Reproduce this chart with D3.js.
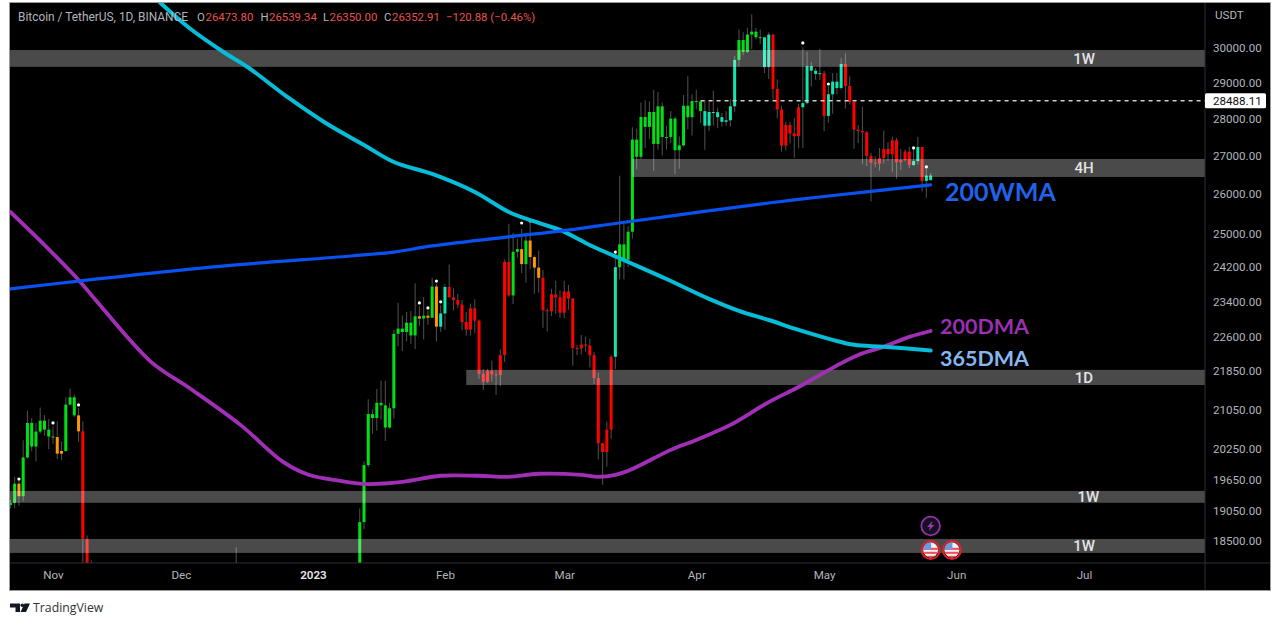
<!DOCTYPE html>
<html>
<head>
<meta charset="utf-8">
<script src="https://cdn.jsdelivr.net/npm/d3@7/dist/d3.min.js"></script>
<style>
html,body{margin:0;padding:0;background:#fff;overflow:hidden}
svg{display:block}
text{font-family:Roboto,sans-serif}
</style>
</head>
<body>
<svg id="chart" width="1280" height="626"></svg>
<script>
// ---- candle data, parallel arrays, one group per month ----
const candleDates = [
 "2022-10-22","2022-10-23","2022-10-24","2022-10-25","2022-10-26","2022-10-27","2022-10-28","2022-10-29","2022-10-30","2022-10-31",
 "2022-11-01","2022-11-02","2022-11-03","2022-11-04","2022-11-05","2022-11-06","2022-11-07","2022-11-08","2022-11-09","2022-11-10",
 "2022-12-14",
 "2023-01-12","2023-01-13","2023-01-14","2023-01-15","2023-01-16","2023-01-17","2023-01-18","2023-01-19","2023-01-20","2023-01-21","2023-01-22","2023-01-23","2023-01-24","2023-01-25","2023-01-26","2023-01-27","2023-01-28","2023-01-29","2023-01-30","2023-01-31",
 "2023-02-01","2023-02-02","2023-02-03","2023-02-04","2023-02-05","2023-02-06","2023-02-07","2023-02-08","2023-02-09","2023-02-10","2023-02-11","2023-02-12","2023-02-13","2023-02-14","2023-02-15","2023-02-16","2023-02-17","2023-02-18","2023-02-19","2023-02-20","2023-02-21","2023-02-22","2023-02-23","2023-02-24","2023-02-25","2023-02-26","2023-02-27","2023-02-28",
 "2023-03-01","2023-03-02","2023-03-03","2023-03-04","2023-03-05","2023-03-06","2023-03-07","2023-03-08","2023-03-09","2023-03-10","2023-03-11","2023-03-12","2023-03-13","2023-03-14","2023-03-15","2023-03-16","2023-03-17","2023-03-18","2023-03-19","2023-03-20","2023-03-21","2023-03-22","2023-03-23","2023-03-24","2023-03-25","2023-03-26","2023-03-27","2023-03-28","2023-03-29","2023-03-30","2023-03-31",
 "2023-04-01","2023-04-02","2023-04-03","2023-04-04","2023-04-05","2023-04-06","2023-04-07","2023-04-08","2023-04-09","2023-04-10","2023-04-11","2023-04-12","2023-04-13","2023-04-14","2023-04-15","2023-04-16","2023-04-17","2023-04-18","2023-04-19","2023-04-20","2023-04-21","2023-04-22","2023-04-23","2023-04-24","2023-04-25","2023-04-26","2023-04-27","2023-04-28","2023-04-29","2023-04-30",
 "2023-05-01","2023-05-02","2023-05-03","2023-05-04","2023-05-05","2023-05-06","2023-05-07","2023-05-08","2023-05-09","2023-05-10","2023-05-11","2023-05-12","2023-05-13","2023-05-14","2023-05-15","2023-05-16","2023-05-17","2023-05-18","2023-05-19","2023-05-20","2023-05-21","2023-05-22","2023-05-23","2023-05-24","2023-05-25","2023-05-26"
];
const opens = [
 19164,19204,19570,19330,20080,20771,20295,20595,20818,20635,
 20495,20485,20154,20207,21148,21300,20925,20600,18540,15880,
 17800,
 17943,18846,19930,20952,20871,21185,21132,20677,21071,22667,22783,22707,22916,22632,23060,23009,23074,23027,23743,22826,
 23125,23733,23490,23431,23326,22932,22762,23240,22963,21796,21625,21862,21783,21773,22200,24324,23538,24566,24631,24271,24838,24439,24188,23947,23198,23175,23561,23492,
 23141,23628,23465,22354,22346,22430,22409,22197,21705,20363,20187,20633,22163,24197,24746,24375,25055,27423,26965,28038,27767,28175,27307,28333,27493,27494,27994,27139,27268,28348,28033,
 28478,28465,28199,27800,28175,28170,28033,27906,27947,28333,29652,30235,29884,30399,30485,30318,30315,29445,30397,28822,28245,27262,27817,27592,27514,28307,28422,29473,29340,29248,
 29268,28068,28669,29026,28847,29534,28904,28454,27694,27658,27621,26987,26807,26784,26930,27172,27032,27405,26821,26880,27102,26747,26851,27225,26334,26473.80
];
const highs = [
 19257,19700,19690,20420,21020,20870,20770,21090,20930,20850,
 20700,20800,20400,21300,21480,21360,21080,20800,18600,18150,
 18387,
 19100,20000,21258,21050,21474,21650,21650,21183,22755,23370,23080,23160,23180,23820,23290,23500,23190,23950,23800,23310,
 23800,24260,23700,23570,23430,23160,23350,23450,22990,21900,21900,22080,21880,22320,24380,25250,25020,24877,25130,25000,25280,24480,24600,24130,23240,23690,23880,23650,
 23880,23780,23480,22420,22640,22600,22560,22270,21820,20370,20800,22200,24500,26470,25250,25190,27760,27725,28440,28500,28470,28800,28730,28440,27800,28200,28050,27510,28650,29180,28670,
 28800,28480,28500,28450,28770,28290,28150,28200,28530,29770,30550,30470,30610,31000,30600,30550,30320,30470,30410,29090,28350,27900,27900,28000,28400,30020,29890,29590,29420,29970,
 29340,28900,29270,29270,29700,29840,29180,28470,27820,28320,27650,27070,26980,27200,27670,27350,27500,27470,27170,27160,27230,27170,27500,27225,26740,26539.34
];
const lows = [
 19100,19100,19150,19230,20050,20200,20000,20550,20510,20240,
 20350,20050,20030,20190,21130,20890,20390,17100,15600,15750,
 17660,
 17910,18714,19888,20551,20611,20841,20407,20660,20861,22400,22290,22500,22450,22330,22850,22540,22870,23030,22500,22710,
 22760,23530,23190,23250,22745,22630,22630,22680,21690,21450,21600,21630,21350,21530,22047,23505,23340,24430,24060,23830,24150,23574,23600,22800,22720,23070,23110,23030,
 23020,23210,21970,22200,22210,22270,21930,21580,20040,19550,19900,20450,21900,23910,23910,24200,24890,26630,26900,27200,27440,26600,27150,27000,27160,27330,26510,26650,27230,27700,27530,
 28250,27870,27150,27660,27800,27730,27780,27800,27780,28170,29450,29790,29850,29970,30250,30120,29270,29100,28520,28000,27100,27140,27320,26940,27190,27200,28380,28880,29070,29070,
 27650,27880,28130,28670,28800,28270,28380,27180,27330,26770,26720,25810,26690,26600,26790,26860,26560,26390,26620,26850,26660,26720,26760,26060,25900,26350.00
];
const closes = [
 19204,19570,19330,20080,20771,20295,20595,20818,20635,20495,
 20485,20154,20207,21148,21300,20925,20600,18540,15880,17600,
 17800,
 18846,19930,20954,20871,21185,21132,20677,21071,22667,22783,22707,22916,22632,23060,23009,23074,23027,23743,22826,23125,
 23733,23490,23431,23326,22932,22762,23240,22963,21796,21625,21862,21783,21773,22200,24324,23538,24566,24631,24271,24838,24439,24188,23947,23198,23175,23561,23492,23141,
 23628,23465,22354,22346,22430,22409,22197,21705,20363,20187,20633,22163,24197,24746,24375,25055,27423,26965,28038,27767,28175,27307,28333,27493,27494,27994,27139,27268,28348,28033,28478,
 28465,28199,27800,28175,28170,28033,27906,27947,28333,29652,30235,29884,30399,30485,30318,30315,29445,30397,28822,28245,27262,27817,27592,27514,28307,28422,29473,29340,29248,29268,
 28068,28669,29026,28847,29534,28904,28454,27694,27658,27621,26987,26807,26784,26930,27172,27032,27405,26821,26880,27102,26747,26851,27225,26334,26473,26352.91
];
// trend paint per candle: g green, r red, o orange, t teal
const tones = [
 "g","g","o","g","g","g","g","g","g","g",
 "g","o","o","g","g","g","o","r","r","g",
 "r",
 "g","g","g","g","g","g","g","g","g","g","g","g","g","g","o","g","o","g","o","t",
 "t","r","r","r","r","r","r","r","r","r","r","r","r","r","r","r","g","g","o","g","o","o","o","r","r","r","r","r",
 "r","r","r","r","r","r","r","r","r","r","r","r","t","g","g","g","g","g","g","g","g","g","g","g","g","g","g","g","g","g","g",
 "g","g","t","t","t","t","t","t","t","t","g","g","g","g","g","g","t","t","r","r","r","r","r","r","r","t","t","t","t","t",
 "r","t","t","t","t","r","r","r","r","r","r","r","r","r","r","r","r","r","r","r","r","t","t","r","t","t"
];

// white signal dots
const dotDates  = ["2022-10-24","2022-11-01","2022-11-07","2023-01-26","2023-01-28","2023-01-30","2023-01-31","2023-02-19","2023-02-21","2023-03-13","2023-04-26","2023-05-02","2023-05-22","2023-05-25"];
const dotPrices = [19660,20770,21140,23364,23250,23870,23390,25270,25320,24560,30150,28960,27200,26700];

// moving averages
const wmaDates  = ["2022-10-22","2022-11-07","2022-12-08","2023-01-10","2023-01-20","2023-01-29","2023-02-16","2023-02-28","2023-03-09","2023-03-16","2023-04-02","2023-04-18","2023-05-02","2023-05-26"];
const wmaValues = [23690,23870,24200,24465,24560,24707,24930,25070,25198,25300,25545,25770,25948,26230];
const dma365Dates  = ["2022-11-26","2022-12-03","2022-12-11","2022-12-17","2022-12-26","2023-01-04","2023-01-13","2023-01-20","2023-01-29","2023-02-08","2023-02-16","2023-02-23","2023-02-28","2023-03-06","2023-03-09","2023-03-16","2023-03-25","2023-04-04","2023-04-11","2023-04-18","2023-04-25","2023-05-03","2023-05-08","2023-05-15","2023-05-26"];
const dma365Values = [31384,30594,29883,29417,28593,27873,27279,26826,26514,26050,25545,25270,25098,24780,24633,24322,23920,23456,23182,22976,22755,22534,22425,22381,22300];
const dma200Dates  = ["2022-10-22","2022-10-30","2022-11-07","2022-11-11","2022-11-24","2022-12-03","2022-12-15","2022-12-25","2022-12-31","2023-01-07","2023-01-13","2023-01-22","2023-01-31","2023-02-09","2023-02-16","2023-02-23","2023-03-05","2023-03-09","2023-03-13","2023-03-17","2023-03-26","2023-04-01","2023-04-09","2023-04-18","2023-04-25","2023-05-03","2023-05-09","2023-05-15","2023-05-21","2023-05-26"];
const dma200Values = [25545,24730,23898,23433,22053,21496,20731,19992,19741,19628,19564,19604,19722,19722,19702,19761,19741,19702,19741,19855,20229,20428,20731,21200,21516,21924,22203,22381,22599,22730];

// support / resistance zones
const zoneLabels = ["1W","4H","1D","1W","1W"];
const zoneStarts = ["2022-10-01","2023-03-17","2023-02-06","2022-10-01","2022-10-01"];
const zoneTops   = [29940,26907,21880,19431,18537];
const zoneBottoms= [29450,26436,21558,19206,18285];
const zoneLabelDates = ["2023-07-01","2023-07-01","2023-07-01","2023-07-02","2023-07-01"];

// axes
const priceTicks = [30000,29000,28000,27000,26000,25000,24200,23400,22600,21850,21050,20250,19650,19050,18500];
const timeTickDates = ["2022-11-01","2022-12-01","2023-01-01","2023-02-01","2023-03-01","2023-04-01","2023-05-01","2023-06-01","2023-07-01"];
const timeTickLabels = ["Nov","Dec","2023","Feb","Mar","Apr","May","Jun","Jul"];
const lastPrice = 28488.11;
const lastPriceStart = "2023-04-02";
const eventFlagDates = ["2023-05-26","2023-05-31"];
const eventBoltDate = "2023-05-26";

// ---- scales ----
const P = {l:10,r:1205,t:3,b:563,outerR:1270,outerB:590};
const parse = d3.utcParse("%Y-%m-%d");
const x = d3.scaleUtc().domain([parse("2022-11-01"),parse("2023-07-01")]).range([53,1084]);
const y = d3.scaleLog().domain([30000,18500]).range([48,541]);

const toneColor = {g:"#00e016",r:"#ff0000",o:"#ff9800",t:"#12e6b0"};
const svg = d3.select("#chart");

svg.append("rect").attr("x",P.l-1).attr("y",P.t-1).attr("width",P.outerR-P.l+2).attr("height",P.outerB-P.t+2).attr("fill","#9a9a9a");
svg.append("rect").attr("x",P.l).attr("y",P.t).attr("width",P.outerR-P.l).attr("height",P.outerB-P.t).attr("fill","#000");

svg.append("defs").append("clipPath").attr("id","plot").append("rect")
  .attr("x",P.l).attr("y",P.t).attr("width",P.r-P.l).attr("height",P.b-P.t);

const plot = svg.append("g").attr("clip-path","url(#plot)");

const candles = candleDates.map((d,i)=>({d:parse(d),o:opens[i],h:highs[i],l:lows[i],c:closes[i],k:tones[i]}));

// wicks
plot.append("g").selectAll("line").data(candles).join("line")
  .attr("x1",d=>x(d.d)).attr("x2",d=>x(d.d))
  .attr("y1",d=>y(d.h)).attr("y2",d=>y(d.l))
  .attr("stroke","#4a4a4a").attr("stroke-width",1.1);
// bodies
plot.append("g").selectAll("rect").data(candles).join("rect")
  .attr("x",d=>x(d.d)-1.5).attr("width",3)
  .attr("y",d=>Math.min(y(d.o),y(d.c)))
  .attr("height",d=>Math.max(1,Math.abs(y(d.o)-y(d.c))))
  .attr("fill",d=>toneColor[d.k]);

// dots
plot.append("g").selectAll("circle").data(dotDates).join("circle")
  .attr("cx",d=>x(parse(d))).attr("cy",(d,i)=>y(dotPrices[i])).attr("r",1.6).attr("fill","#fff");

// zones
plot.append("g").selectAll("rect").data(zoneLabels).join("rect")
  .attr("x",(d,i)=>x(parse(zoneStarts[i])))
  .attr("width",(d,i)=>P.r-x(parse(zoneStarts[i])))
  .attr("y",(d,i)=>y(zoneTops[i]))
  .attr("height",(d,i)=>y(zoneBottoms[i])-y(zoneTops[i]))
  .attr("fill","#fff").attr("fill-opacity",0.29);

plot.append("g").selectAll("text").data(zoneLabels).join("text")
  .attr("x",(d,i)=>x(parse(zoneLabelDates[i])))
  .attr("y",(d,i)=>(y(zoneTops[i])+y(zoneBottoms[i]))/2)
  .attr("dy","0.36em").attr("text-anchor","middle")
  .attr("font-size",15).attr("fill","#e4e4e4").attr("font-weight",500)
  .text(d=>d);

// last price dashed
plot.append("line")
  .attr("x1",x(parse(lastPriceStart))).attr("x2",P.r)
  .attr("y1",y(lastPrice)).attr("y2",y(lastPrice))
  .attr("stroke","#d0d0d0").attr("stroke-width",1.3).attr("stroke-dasharray","4 4");

// moving average lines
const lineGen = d3.line().x(d=>x(d[0])).y(d=>y(d[1])).curve(d3.curveCatmullRom.alpha(0.5));
function maLine(dates,vals,color,w){
  plot.append("path")
    .datum(dates.map((d,i)=>[parse(d),vals[i]]))
    .attr("d",lineGen).attr("fill","none").attr("stroke",color)
    .attr("stroke-width",w).attr("stroke-linecap","round");
}
maLine(dma200Dates,dma200Values,"#a02fb6",3.8);
maLine(dma365Dates,dma365Values,"#06bcd6",4);
maLine(wmaDates,wmaValues,"#0a52f0",3.2);

// annotations
const noteFont = "Lato,'Open Sans',sans-serif";
[["200WMA",945,192,25,"#1f63ea"],["200DMA",940,326,21.5,"#9b2fb0"],["365DMA",940,358,21.5,"#86b6ee"]].forEach(a=>{
  svg.append("text").attr("x",a[1]).attr("y",a[2]).attr("dy","0.36em")
    .attr("font-size",a[3]).attr("font-weight",700).attr("fill",a[4])
    .style("font-family",noteFont).text(a[0]);
});

// event icons
const boltY=526, flagY=550;
const boltG = svg.append("g").attr("transform",`translate(${x(parse(eventBoltDate))},${boltY})`);
boltG.append("circle").attr("r",9.3).attr("fill","#1a0f20").attr("stroke","#8e35a8").attr("stroke-width",1.8);
boltG.append("path").attr("d","M1.8,-5 L-3.6,1 L-0.6,1 L-1.8,5 L3.6,-1 L0.6,-1 Z").attr("fill","#9c3bb8");
const defs = svg.select("defs");
eventFlagDates.forEach((d,i)=>{
  const cx=x(parse(d));
  defs.append("clipPath").attr("id","fc"+i).append("circle").attr("r",7.4);
  const g = svg.append("g").attr("transform",`translate(${cx},${flagY})`);
  const inner = g.append("g").attr("clip-path",`url(#fc${i})`);
  inner.append("rect").attr("x",-8).attr("y",-8).attr("width",16).attr("height",16).attr("fill","#f2f2f2");
  d3.range(3).forEach(k=>inner.append("rect").attr("x",-8).attr("y",-2.2+k*4).attr("width",16).attr("height",2.1).attr("fill","#f0535f"));
  inner.append("rect").attr("x",-8).attr("y",-8).attr("width",8.5).attr("height",7.5).attr("fill","#6a9ae6");
  g.append("circle").attr("r",9).attr("fill","none").attr("stroke","#e0202e").attr("stroke-width",1.9);
});

// separators
svg.append("line").attr("x1",P.r).attr("x2",P.r).attr("y1",P.t).attr("y2",P.outerB).attr("stroke","#2a2e39");
svg.append("line").attr("x1",P.l).attr("x2",P.outerR).attr("y1",P.b).attr("y2",P.b).attr("stroke","#2a2e39");

// price axis
const yAxis = svg.append("g").attr("transform",`translate(${P.r},0)`)
  .call(d3.axisRight(y).tickValues(priceTicks).tickFormat(d3.format(".2f")).tickSize(0).tickPadding(8));
yAxis.select(".domain").remove();
yAxis.selectAll("text").attr("fill","#b2b5be").attr("font-size",11.6).style("font-family","Roboto,sans-serif");

svg.append("text").attr("x",1215).attr("y",15).attr("dy","0.36em").attr("fill","#b2b5be").attr("font-size",11.6).text("USDT");

// last price tag
svg.append("rect").attr("x",1205).attr("y",y(lastPrice)-7.5).attr("width",61).attr("height",15).attr("rx",1.5).attr("fill","#fff");
svg.append("text").attr("x",1213).attr("y",y(lastPrice)).attr("dy","0.36em").attr("fill","#111").attr("font-size",11.6).text(d3.format(".2f")(lastPrice));

// time axis
const xAxis = svg.append("g").attr("transform",`translate(0,${P.b})`)
  .call(d3.axisBottom(x).tickValues(timeTickDates.map(parse)).tickFormat((d,i)=>timeTickLabels[i]).tickSize(0).tickPadding(8));
xAxis.select(".domain").remove();
xAxis.selectAll("text").attr("fill",(d,i)=>timeTickLabels[i]==="2023"?"#e8e8e8":"#b2b5be")
  .attr("font-weight",(d,i)=>timeTickLabels[i]==="2023"?600:400)
  .attr("font-size",11.6).style("font-family","Roboto,sans-serif");

// legend
const legendY=17;
const legendBits=[
 [18,"Bitcoin / TetherUS, 1D, BINANCE","#b2b5be",11.9],
 [197,"O","#b2b5be",11.4],[205.5,"26473.80","#e8534f",11.4],
 [260.5,"H","#b2b5be",11.4],[269,"26539.34","#e8534f",11.4],
 [323,"L","#b2b5be",11.4],[329.5,"26350.00","#e8534f",11.4],
 [384,"C","#b2b5be",11.4],[392,"26352.91","#e8534f",11.4],
 [446,"\u2212120.88 (\u22120.46%)","#e8534f",11.4]];
legendBits.forEach(b=>svg.append("text").attr("x",b[0]).attr("y",legendY).attr("dy","0.36em").attr("font-size",b[3]).attr("fill",b[2]).text(b[1]));

// footer
svg.append("path").attr("d","M10,603.5 H20 V612 H15.5 V607.5 H10 Z M24.5,603.5 H30 L26,612 H20.5 Z").attr("fill","#131722");
svg.append("circle").attr("cx",22.3).attr("cy",605.3).attr("r",1.8).attr("fill","#131722");
svg.append("text").attr("x",33).attr("y",608).attr("dy","0.36em").attr("font-size",12.3).attr("fill","#333").style("font-family","'Open Sans',sans-serif").text("TradingView");
</script>
</body>
</html>
